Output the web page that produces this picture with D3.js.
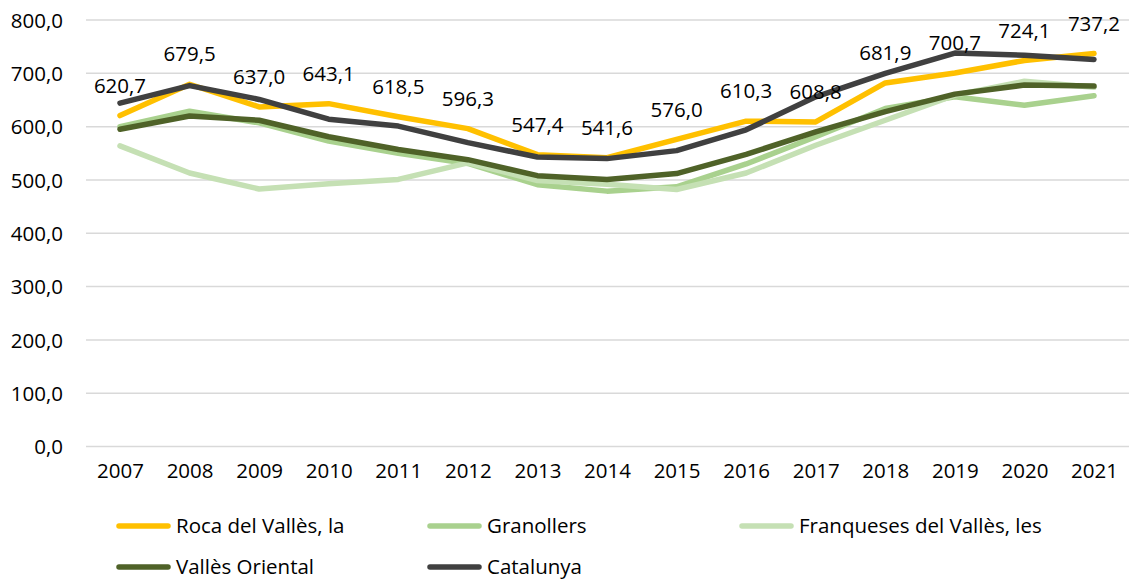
<!DOCTYPE html>
<html><head><meta charset="utf-8">
<script src="https://cdn.jsdelivr.net/npm/d3@7/dist/d3.min.js"></script>
<style>body{margin:0;background:#fff}svg{display:block}</style>
</head><body>
<script>
const years = ["2007","2008","2009","2010","2011","2012","2013","2014","2015","2016","2017","2018","2019","2020","2021"];
const roca = [620.7,679.5,637.0,643.1,618.5,596.3,547.4,541.6,576.0,610.3,608.8,681.9,700.7,724.1,737.2];
const granollers = [600,629,607,573,550,531,491,479,487,530,581,634,656,640,658];
const franqueses = [564,513,483,493,501,532,499,492,482,513,565,612,659,685,674];
const vallesOriental = [595,620,612,581,557,538,508,501,512,548,590,628,661,678,676];
const catalunya = [644,677,651,614,601,570,543,540,555,594,656,700,738,734,726];
const yTicks = [0,100,200,300,400,500,600,700,800];
const seriesNames = ["Roca del Vallès, la","Granollers","Franqueses del Vallès, les","Vallès Oriental","Catalunya"];
const seriesColors = ["#FFC000","#A9D18E","#C5E0B4","#4F6228","#404040"];
const seriesValues = [roca, granollers, franqueses, vallesOriental, catalunya];

const W=1129,H=580;
const svg=d3.select("body").append("svg").attr("width",W).attr("height",H);
const font="'Open Sans', sans-serif", fs=20.5;
const x=d3.scalePoint().domain(years).range([120,1094]);
const y=d3.scaleLinear().domain([0,800]).range([446.5,20]);

svg.append("g").selectAll("line").data(yTicks).join("line")
  .attr("x1",86).attr("x2",1129).attr("y1",d=>y(d)).attr("y2",d=>y(d))
  .attr("stroke","#D9D9D9").attr("stroke-width",1.5);

const yAxis=svg.append("g").attr("transform","translate(86,0)")
  .call(d3.axisLeft(y).tickValues(yTicks).tickSize(0).tickPadding(23).tickFormat(d=>d3.format(".1f")(d).replace(".",",")));
yAxis.select(".domain").remove();
yAxis.selectAll("text").attr("font-family",font).attr("font-size",fs).attr("fill","#000").attr("dy","0.35em");

const xAxis=svg.append("g").attr("transform","translate(0,446.5)")
  .call(d3.axisBottom(x).tickSize(0).tickPadding(0));
xAxis.select(".domain").remove();
xAxis.selectAll("text").attr("font-family",font).attr("font-size",fs).attr("fill","#000").attr("y",24).attr("dy","0.35em");

const line=d3.line().x((d,i)=>x(years[i])).y(d=>y(d));
svg.append("g").selectAll("path").data(seriesValues).join("path")
  .attr("d",d=>line(d)).attr("fill","none")
  .attr("stroke",(d,i)=>seriesColors[i]).attr("stroke-width",5.5)
  .attr("stroke-linejoin","round").attr("stroke-linecap","round");

svg.append("g").selectAll("text").data(roca).join("text")
  .attr("x",(d,i)=>x(years[i])).attr("y",d=>y(d)-30).attr("dy","0.35em")
  .attr("text-anchor","middle").attr("font-family",font).attr("font-size",fs).attr("fill","#000")
  .text(d=>d3.format(".1f")(d).replace(".",","));

const legPos=[[117,526],[428,526],[740,526],[117,567],[428,567]];
const lg=svg.append("g").selectAll("g").data(seriesNames).join("g")
  .attr("transform",(d,i)=>`translate(${legPos[i][0]},${legPos[i][1]})`);
lg.append("line").attr("x1",2).attr("x2",51).attr("y1",0).attr("y2",0)
  .attr("stroke",(d,i)=>seriesColors[i]).attr("stroke-width",5.5).attr("stroke-linecap","round");
lg.append("text").attr("x",59).attr("y",0).attr("dy","0.35em")
  .attr("font-family",font).attr("font-size",fs).attr("fill","#000").text(d=>d);
</script>
</body></html>
